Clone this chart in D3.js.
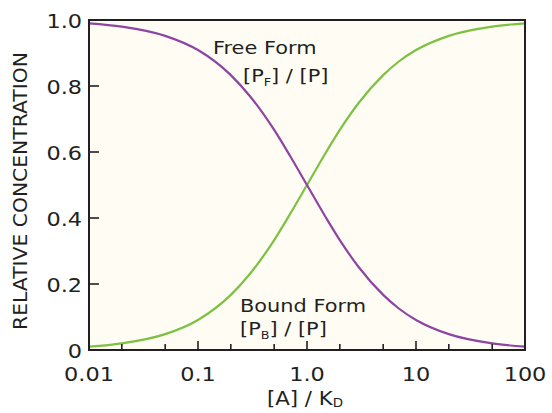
<!DOCTYPE html>
<html>
<head>
<meta charset="utf-8">
<script src="https://cdn.jsdelivr.net/npm/d3@7"></script>
<style>
html,body{margin:0;padding:0;background:#ffffff;}
svg{display:block;}
text{font-family:"DejaVu Sans",sans-serif;fill:#231f20;}
</style>
</head>
<body>
<svg id="chart" width="552" height="413"></svg>
<script>
// Data
const ratio = [0.01, 0.02, 0.05, 0.1, 0.2, 0.3, 0.5, 0.7, 1.0, 1.5, 2, 3, 5, 7, 10, 20, 50, 100];
const freeForm = [0.99, 0.98, 0.952, 0.909, 0.833, 0.769, 0.667, 0.588, 0.5, 0.4, 0.333, 0.25, 0.167, 0.125, 0.091, 0.048, 0.02, 0.01];
const boundForm = [0.01, 0.02, 0.048, 0.091, 0.167, 0.231, 0.333, 0.412, 0.5, 0.6, 0.667, 0.75, 0.833, 0.875, 0.909, 0.952, 0.98, 0.99];
const xMajorTicks = [0.01, 0.1, 1, 10, 100];
const xMajorLabels = ["0.01", "0.1", "1.0", "10", "100"];
const xMinorTicks = [0.02, 0.05, 0.2, 0.5, 2, 5, 20, 50];
const yTicks = [0, 0.2, 0.4, 0.6, 0.8, 1.0];
const yLabels = ["0", "0.2", "0.4", "0.6", "0.8", "1.0"];

const svg = d3.select("#chart");
const L = 89, R = 525, T = 20, B = 350;
const x = d3.scaleLog().domain([0.01, 100]).range([L, R]);
const y = d3.scaleLinear().domain([0, 1]).range([B, T]);

// plot background
svg.append("rect").attr("x", L).attr("y", T).attr("width", R - L).attr("height", B - T)
  .attr("fill", "#fffdf3");

// curves
const line = d3.line().x(d => x(d[0])).y(d => y(d[1])).curve(d3.curveMonotoneX);
svg.append("path").datum(ratio.map((r, i) => [r, boundForm[i]]))
  .attr("d", line).attr("fill", "none").attr("stroke", "#7cc142").attr("stroke-width", 2.2);
svg.append("path").datum(ratio.map((r, i) => [r, freeForm[i]]))
  .attr("d", line).attr("fill", "none").attr("stroke", "#8e44a3").attr("stroke-width", 2.2);

// ticks (inward)
const ax = svg.append("g").attr("stroke", "#231f20").attr("stroke-width", 1.6);
ax.selectAll(".xmaj").data(xMajorTicks.slice(1, -1)).join("line")
  .attr("x1", d => x(d)).attr("x2", d => x(d)).attr("y1", B).attr("y2", B - 9);
ax.selectAll(".xmin").data(xMinorTicks).join("line")
  .attr("x1", d => x(d)).attr("x2", d => x(d)).attr("y1", B).attr("y2", B - 6);
ax.selectAll(".ymaj").data(yTicks.slice(1, -1)).join("line")
  .attr("x1", L).attr("x2", L + 10).attr("y1", d => y(d)).attr("y2", d => y(d));

// frame
svg.append("rect").attr("x", L).attr("y", T).attr("width", R - L).attr("height", B - T)
  .attr("fill", "none").attr("stroke", "#231f20").attr("stroke-width", 2);

// tick labels (wide lettering)
const SX = 1.12;
svg.selectAll(".xl").data(xMajorTicks).join("text")
  .attr("transform", d => `translate(${x(d)},381) scale(${SX},1)`).attr("text-anchor", "middle")
  .attr("font-size", 20).text((d, i) => xMajorLabels[i]);
svg.selectAll(".yl").data(yTicks).join("text")
  .attr("transform", d => `translate(82,${y(d) + 8}) scale(${SX},1)`).attr("text-anchor", "end")
  .attr("font-size", 20).text((d, i) => yLabels[i]);

// axis titles
svg.append("text").attr("transform", "translate(27,191) rotate(-90) scale(1.07,1)")
  .attr("text-anchor", "middle").attr("font-size", 19).text("RELATIVE CONCENTRATION");
const xt = svg.append("text").attr("transform", `translate(305,405) scale(${SX},1)`)
  .attr("text-anchor", "middle").attr("font-size", 19);
xt.append("tspan").text("[A] / K");
xt.append("tspan").attr("font-size", 12).attr("dy", 2).text("D");

// annotations
const AS = 1.16;
svg.append("text").attr("transform", `translate(213,54) scale(${AS},1)`).attr("font-size", 18).text("Free Form");
const f2 = svg.append("text").attr("transform", `translate(243,82) scale(${AS},1)`).attr("font-size", 18);
f2.append("tspan").text("[P");
f2.append("tspan").attr("font-size", 11).attr("dy", 4).text("F");
f2.append("tspan").attr("dy", -4).text("] / [P]");

svg.append("text").attr("transform", `translate(240,312) scale(${AS},1)`).attr("font-size", 18).text("Bound Form");
const b2 = svg.append("text").attr("transform", `translate(240,335) scale(${AS},1)`).attr("font-size", 18);
b2.append("tspan").text("[P");
b2.append("tspan").attr("font-size", 11).attr("dy", 4).text("B");
b2.append("tspan").attr("dy", -4).text("] / [P]");
</script>
</body>
</html>
